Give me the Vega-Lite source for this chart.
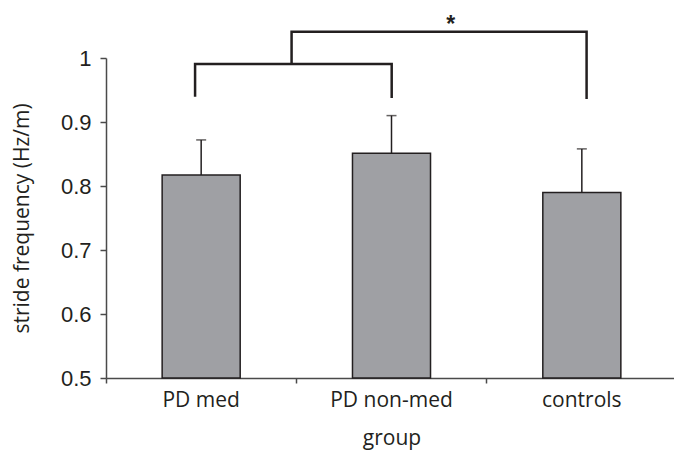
{
  "$schema": "https://vega.github.io/schema/vega-lite/v6.json",
  "autosize": "none",
  "width": 571,
  "height": 320,
  "padding": {"left": 106, "top": 58, "right": 0, "bottom": 73},
  "background": "white",
  "config": {"view": {"stroke": null}},
  "layer": [
    {
      "data": {"values": [
        {"group": "PD med", "mean": 0.817, "upper": 0.872},
        {"group": "PD non-med", "mean": 0.851, "upper": 0.910},
        {"group": "controls", "mean": 0.790, "upper": 0.858}
      ]},
      "encoding": {
        "x": {"field": "group", "type": "nominal", "sort": null,
          "scale": {"paddingInner": 0, "paddingOuter": 0},
          "axis": {"title": "group", "labelAngle": 0, "bandPosition": 0,
            "domainColor": "#4a4a4a", "domainWidth": 1.5, "tickColor": "#4a4a4a", "tickWidth": 1.5, "tickSize": 5,
            "labelFont": "Open Sans", "labelFontSize": 21, "labelColor": "#231f20", "labelPadding": 6,
            "titleFont": "Open Sans", "titleFontSize": 21, "titleFontWeight": "normal", "titleColor": "#231f20", "titlePadding": 17}}
      },
      "layer": [
        {
          "mark": {"type": "bar", "width": {"band": 0.41}, "fill": "#9fa0a4", "stroke": "#231f20", "strokeWidth": 1.5},
          "encoding": {
            "y": {"field": "mean", "type": "quantitative",
              "scale": {"domain": [0.5, 1], "nice": false, "zero": false},
              "axis": {"title": "stride frequency (Hz/m)", "values": [0.5, 0.6, 0.7, 0.8, 0.9, 1], "format": ".1~f", "grid": false,
                "domainColor": "#4a4a4a", "domainWidth": 1.5, "tickColor": "#4a4a4a", "tickWidth": 1.5, "tickSize": 6,
                "labelFont": "Liberation Sans", "labelFontSize": 22, "labelColor": "#231f20", "labelPadding": 9,
                "titleFont": "Open Sans", "titleFontSize": 21, "titleFontWeight": "normal", "titleColor": "#231f20", "titlePadding": 28}},
            "y2": {"datum": 0.5}
          }
        },
        {
          "mark": {"type": "rule", "color": "#231f20", "strokeWidth": 1.5},
          "encoding": {
            "y": {"field": "mean", "type": "quantitative", "title": "stride frequency (Hz/m)"},
            "y2": {"field": "upper"}
          }
        },
        {
          "mark": {"type": "tick", "color": "#231f20", "size": 10, "thickness": 1.5},
          "encoding": {
            "y": {"field": "upper", "type": "quantitative", "title": "stride frequency (Hz/m)"}
          }
        }
      ]
    },
    {
      "data": {"values": [
        {"bracket": "a", "step": 1, "px": 0.468, "py": 0.9395},
        {"bracket": "a", "step": 2, "px": 0.468, "py": 0.9906},
        {"bracket": "a", "step": 3, "px": 1.501, "py": 0.9906},
        {"bracket": "a", "step": 4, "px": 1.501, "py": 0.9375},
        {"bracket": "b", "step": 1, "px": 0.975, "py": 0.9906},
        {"bracket": "b", "step": 2, "px": 0.975, "py": 1.041},
        {"bracket": "b", "step": 3, "px": 2.525, "py": 1.041},
        {"bracket": "b", "step": 4, "px": 2.525, "py": 0.936}
      ]},
      "mark": {"type": "line", "color": "#231f20", "strokeWidth": 2.5, "strokeJoin": "miter", "strokeCap": "butt"},
      "encoding": {
        "x": {"field": "px", "type": "quantitative", "scale": {"domain": [0, 3], "nice": false, "zero": false}, "axis": null},
        "y": {"field": "py", "type": "quantitative", "title": "stride frequency (Hz/m)"},
        "detail": {"field": "bracket"},
        "order": {"field": "step"}
      }
    },
    {
      "data": {"values": [{"label": "*", "px": 1.811, "py": 1.052}]},
      "mark": {"type": "text", "font": "Liberation Sans", "fontSize": 23, "fontWeight": "bold", "color": "#231f20", "baseline": "middle", "align": "center"},
      "encoding": {
        "x": {"field": "px", "type": "quantitative", "scale": {"domain": [0, 3], "nice": false, "zero": false}, "axis": null},
        "y": {"field": "py", "type": "quantitative", "title": "stride frequency (Hz/m)"},
        "text": {"field": "label"}
      }
    }
  ],
  "resolve": {"scale": {"x": "independent"}}
}
